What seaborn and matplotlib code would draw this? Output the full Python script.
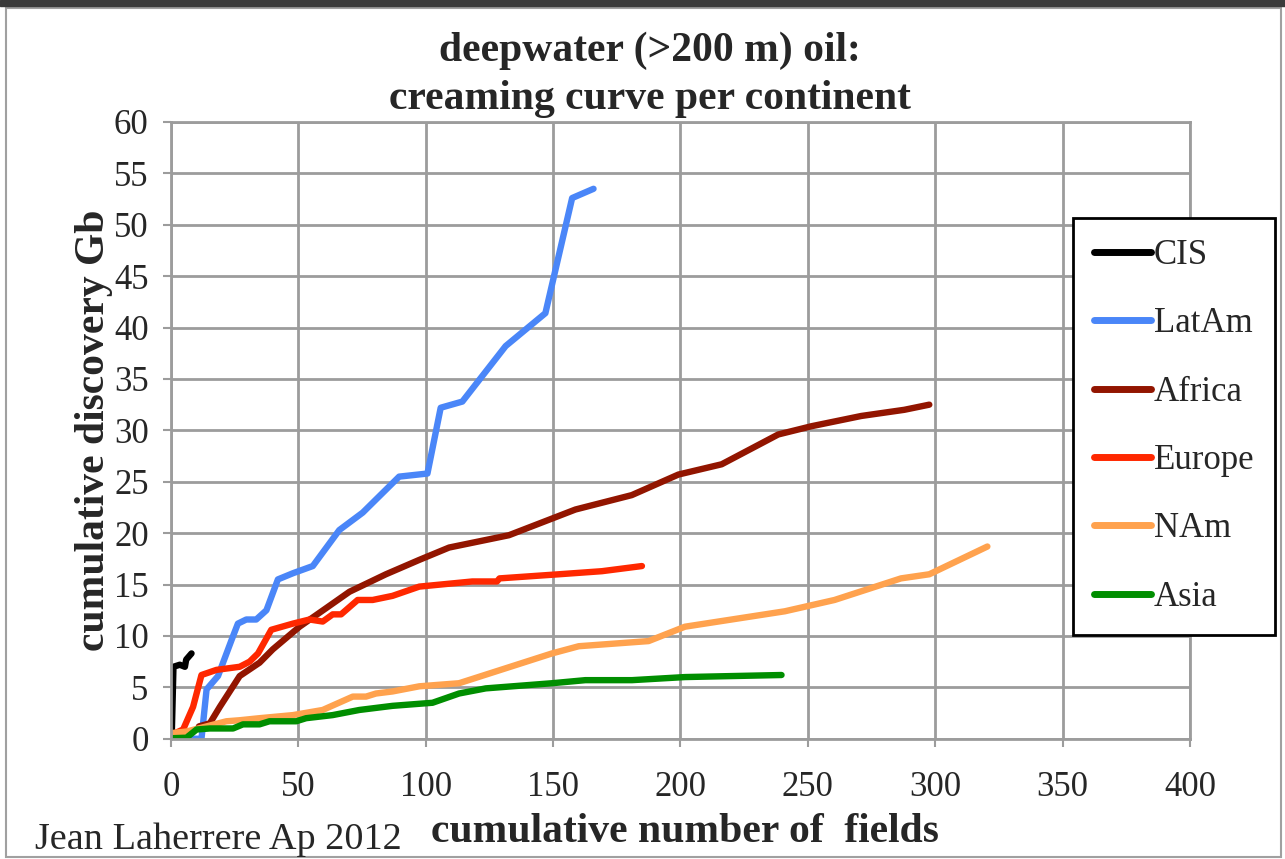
import matplotlib
matplotlib.use('Agg')
import matplotlib.pyplot as plt
from matplotlib.patches import Rectangle
import seaborn as sns
import pandas as pd

# cumulative number of fields / cumulative discovery Gb
cis_x = [0.3, 1.0, 3.5, 5.5, 6.0, 8.1]
cis_y = [0.0, 7.0, 7.2, 7.0, 7.7, 8.3]

latam_x = [5, 12, 14, 18.5, 23.8, 26.3, 29.6, 33.5, 37.5, 42, 47.9, 55.7, 66.1,
           75.3, 89.6, 100.7, 105.9, 114.4, 131.4, 147, 157.5, 165.9]
latam_y = [0, 0, 4.8, 6.1, 9.6, 11.2, 11.6, 11.6, 12.5, 15.5, 16.1, 16.8, 20.3,
           22.0, 25.5, 25.8, 32.2, 32.8, 38.2, 41.4, 52.6, 53.5]

africa_x = [11, 15.3, 19.2, 27, 34.8, 40, 50.5, 60.9, 70.1, 84.4, 97.5, 109.2,
            132.7, 158.8, 180.9, 199.2, 216.2, 238.4, 251.4, 271, 287.9, 297.7]
africa_y = [1.2, 1.5, 3.1, 6.1, 7.4, 8.7, 10.9, 12.7, 14.3, 16.0, 17.4, 18.6,
            19.8, 22.3, 23.7, 25.7, 26.7, 29.6, 30.4, 31.4, 32.0, 32.5]

europe_x = [0.3, 4.8, 8.7, 12, 17.9, 27, 30.9, 34.2, 39.4, 47.9, 54.4, 59.6, 63.5,
            66.8, 73.3, 79.2, 87, 97.5, 118.3, 128, 129, 152.3, 169.2, 184.9]
europe_y = [0.4, 0.9, 3.1, 6.2, 6.7, 7.0, 7.5, 8.3, 10.6, 11.2, 11.6, 11.4, 12.1,
            12.1, 13.5, 13.5, 13.9, 14.8, 15.3, 15.3, 15.6, 16.0, 16.3, 16.8]

nam_x = [0.3, 6.1, 21.8, 27, 34.8, 47.9, 59.6, 71.4, 76.6, 80.5, 87, 97.5, 113.1,
         149.6, 160.1, 187.5, 201.8, 241, 260.5, 286.6, 297.7, 320.5]
nam_y = [0.55, 0.7, 1.7, 1.8, 2.0, 2.3, 2.8, 4.1, 4.1, 4.4, 4.6, 5.1, 5.4,
         8.3, 9.0, 9.5, 10.9, 12.4, 13.5, 15.6, 16.0, 18.7]

asia_x = [0.3, 6.1, 10.1, 15.3, 24.4, 28.3, 34.8, 38.7, 49.2, 53.1, 63.5, 74, 87,
          102.7, 113.1, 123.6, 149.6, 162.7, 181, 201.8, 239.7]
asia_y = [0.05, 0.1, 0.9, 1.0, 1.0, 1.4, 1.4, 1.7, 1.7, 2.0, 2.3, 2.8, 3.2,
          3.5, 4.4, 4.9, 5.4, 5.7, 5.7, 6.0, 6.2]

series = {
    'CIS': (cis_x, cis_y),
    'LatAm': (latam_x, latam_y),
    'Africa': (africa_x, africa_y),
    'Europe': (europe_x, europe_y),
    'NAm': (nam_x, nam_y),
    'Asia': (asia_x, asia_y),
}
colors = {
    'CIS': '#000000',
    'LatAm': '#4A86F8',
    'Africa': '#921500',
    'Europe': '#FF2800',
    'NAm': '#FFA24E',
    'Asia': '#008E00',
}

rows = []
for name, (xs, ys) in series.items():
    for i, (x, y) in enumerate(zip(xs, ys)):
        rows.append({'continent': name, 'order': i, 'fields': x, 'Gb': y})
df = pd.DataFrame(rows)

sns.set_style('white')
plt.rcParams['font.family'] = ['Liberation Serif', 'DejaVu Serif']

fig = plt.figure(figsize=(12.85, 8.59), dpi=100)
ax = fig.add_axes([0.133, 0.140, 0.793, 0.718])

sns.lineplot(data=df, x='fields', y='Gb', hue='continent', units='continent',
             estimator=None, sort=False, palette=colors,
             hue_order=list(series.keys()), linewidth=4.6,
             solid_capstyle='round', solid_joinstyle='round', ax=ax)

ax.set_xlim(0, 400)
ax.set_ylim(0, 60)
ax.set_xticks(range(0, 401, 50))
ax.set_yticks(range(0, 61, 5))
ax.grid(True, color='#9c9c9c', linewidth=2)
ax.set_axisbelow(True)
for sp in ax.spines.values():
    sp.set_color('#9c9c9c')
    sp.set_linewidth(2)
ax.tick_params(axis='x', length=6, width=1.5, color='#9c9c9c', pad=17,
               labelsize=25, direction='out', bottom=True)
ax.tick_params(axis='y', length=6, width=1.5, color='#9c9c9c', pad=10,
               labelsize=25, direction='out', left=True)

ax.set_xlabel('cumulative number of  fields', fontsize=30, fontweight='bold')
ax.set_ylabel('cumulative discovery Gb', fontsize=30, fontweight='bold')
ax.xaxis.set_label_coords(0.504, -0.152)
ax.xaxis.label.set_va('center')
ax.yaxis.set_label_coords(-0.075, 0.5)
ax.yaxis.label.set_va('center')

fig.text(0.506, 0.913, 'deepwater (>200 m) oil:\ncreaming curve per continent',
         ha='center', va='center', fontsize=30, fontweight='bold', linespacing=1.35)
fig.text(0.027, 0.022, 'Jean Laherrere Ap 2012', ha='left', va='center', fontsize=27.5)

handles, labels = ax.get_legend_handles_labels()
leg = ax.legend(handles, labels, loc='upper left',
                bbox_to_anchor=(1073 / 1285, 1 - 218 / 859),
                bbox_transform=fig.transFigure, borderaxespad=0, fontsize=25,
                frameon=True, fancybox=False, edgecolor='black', framealpha=1,
                labelspacing=1.02, borderpad=0.6, handlelength=1.65,
                handletextpad=0.08)
leg.get_frame().set_linewidth(2)
for line in leg.get_lines():
    line.set_linewidth(5)
    line.set_solid_capstyle('round')

# outer chart border and the dark strip cut from above
fig.add_artist(Rectangle((6 / 1285, 2 / 859), 1 - 10 / 1285, 1 - 10 / 859,
                         transform=fig.transFigure, fill=False,
                         edgecolor='#a0a0a0', linewidth=1.5))
fig.add_artist(Rectangle((0, 1 - 6 / 859), 1, 6 / 859, transform=fig.transFigure,
                         color='#3a3a3a'))

fig.savefig('out.png', dpi=100)
